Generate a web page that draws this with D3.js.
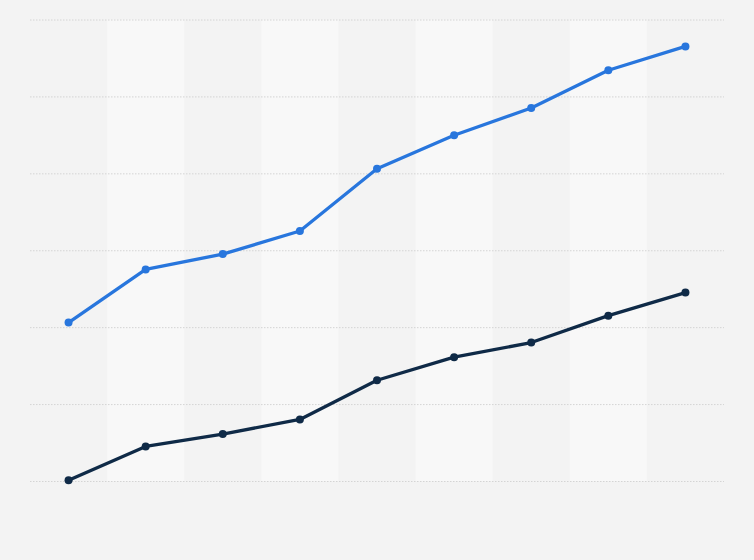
<!DOCTYPE html>
<html>
<head>
<meta charset="utf-8">
<script src="https://cdn.jsdelivr.net/npm/d3@7"></script>
<style>
  html, body { margin: 0; padding: 0; background: #f3f3f3; }
  svg { display: block; }
</style>
</head>
<body>
<svg id="chart" width="754" height="560"></svg>
<script>
const categories = ["1", "2", "3", "4", "5", "6", "7", "8", "9"];
const seriesBlue = [20.6, 27.5, 29.5, 32.5, 40.6, 44.95, 48.5, 53.4, 56.5];
const seriesDark = [0.1, 4.5, 6.1, 8.0, 13.1, 16.1, 18.0, 21.5, 24.5];
const yTicks = [0, 10, 20, 30, 40, 50, 60];

const margin = { top: 19.5, right: 30, bottom: 79, left: 30 };
const W = 754, H = 560;
const svg = d3.select("#chart");
svg.append("rect").attr("width", W).attr("height", H).attr("fill", "#f3f3f3");

const x = d3.scaleBand().domain(categories).range([margin.left, W - margin.right]);
const y = d3.scaleLinear().domain([0, 60]).range([H - margin.bottom, margin.top]);

// alternating bands
svg.append("g").selectAll("rect")
  .data(categories.filter((d, i) => i % 2 === 1))
  .join("rect")
  .attr("x", d => x(d))
  .attr("y", y(60))
  .attr("width", x.bandwidth())
  .attr("height", y(0) - y(60))
  .attr("fill", "#f8f8f8");

// gridlines
const yAxis = d3.axisLeft(y).tickValues(yTicks).tickSize(-(W - margin.left - margin.right)).tickFormat("");
const g = svg.append("g").attr("transform", `translate(${margin.left},0)`).call(yAxis);
g.select(".domain").remove();
g.selectAll(".tick line")
  .attr("stroke", "#d4d4d4")
  .attr("stroke-width", 1)
  .attr("stroke-dasharray", "1.5,1.5");

const line = d3.line()
  .x((d, i) => x(categories[i]) + x.bandwidth() / 2)
  .y(d => y(d));

function drawSeries(vals, color) {
  svg.append("path")
    .datum(vals)
    .attr("d", line)
    .attr("fill", "none")
    .attr("stroke", color)
    .attr("stroke-width", 3.3)
    .attr("stroke-linejoin", "round");
  svg.append("g").selectAll("circle")
    .data(vals)
    .join("circle")
    .attr("cx", (d, i) => x(categories[i]) + x.bandwidth() / 2)
    .attr("cy", d => y(d))
    .attr("r", 4)
    .attr("fill", color);
}

drawSeries(seriesBlue, "#2876dd");
drawSeries(seriesDark, "#0f2a47");
</script>
</body>
</html>
